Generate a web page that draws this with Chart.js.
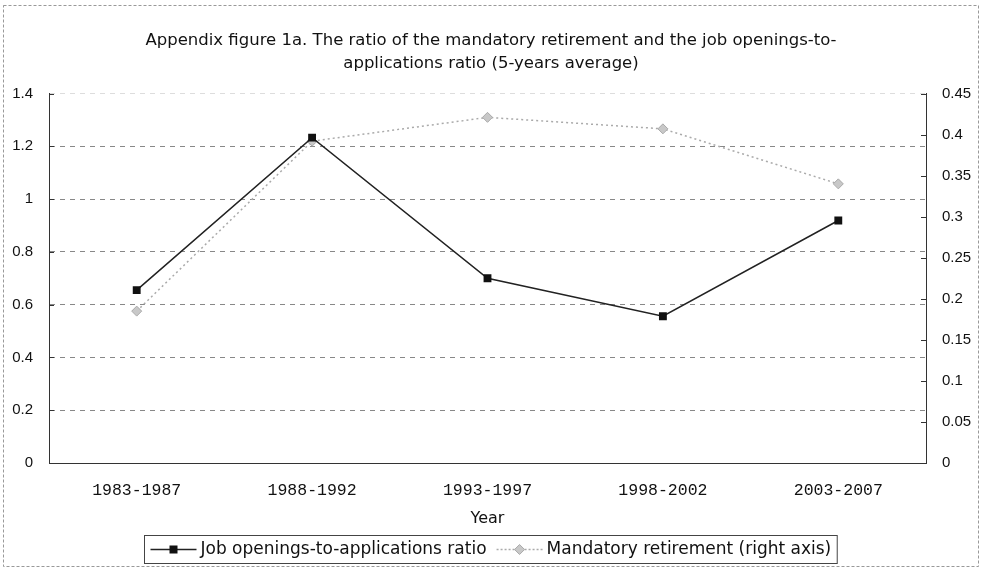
<!DOCTYPE html>
<html>
<head>
<meta charset="utf-8">
<script src="https://cdn.jsdelivr.net/npm/chart.js@4"></script>
<style>
  html, body { margin: 0; padding: 0; background: #fff; }
  #wrap { position: relative; width: 982px; height: 568px; }
</style>
</head>
<body>
<div id="wrap"><canvas id="c" width="982" height="568"></canvas></div>
<script>
// ---- data ----
const categories = ['1983-1987', '1988-1992', '1993-1997', '1998-2002', '2003-2007'];
const jobRatio = [0.655, 1.233, 0.70, 0.556, 0.919];
const retirement = [0.185, 0.392, 0.421, 0.407, 0.340];
const titleLines = ['Appendix figure 1a. The ratio of the mandatory retirement and the job openings-to-',
                    'applications ratio (5-years average)'];
const xTitle = 'Year';
const seriesNames = ['Job openings-to-applications ratio', 'Mandatory retirement (right axis)'];

const TEXT = '#111';
const fmt = v => String(+Number(v).toFixed(2));

const framePlugin = {
  id: 'frame',
  beforeDraw(chart) {
    const ctx = chart.ctx;
    ctx.save();
    ctx.fillStyle = '#fff';
    ctx.fillRect(0, 0, chart.width, chart.height);
    ctx.strokeStyle = '#999';
    ctx.lineWidth = 1;
    ctx.setLineDash([3, 2]);
    ctx.strokeRect(3.5, 5.5, 975, 561);
    ctx.restore();
  },
  afterDraw(chart) {
    const ctx = chart.ctx;
    const yL = chart.scales.y, yR = chart.scales.y1;
    ctx.save();
    ctx.strokeStyle = '#333';
    ctx.lineWidth = 1;
    yL.ticks.forEach((t, i) => {
      const py = Math.round(yL.getPixelForTick(i)) + 0.5;
      ctx.beginPath(); ctx.moveTo(yL.right, py); ctx.lineTo(yL.right + 5, py); ctx.stroke();
    });
    yR.ticks.forEach((t, i) => {
      const py = Math.round(yR.getPixelForTick(i)) + 0.5;
      ctx.beginPath(); ctx.moveTo(yR.left - 5, py); ctx.lineTo(yR.left, py); ctx.stroke();
    });
    // legend
    const font = '17px "DejaVu Sans"';
    ctx.font = font;
    const sample = 46, gap1 = 4, gap2 = 10, padX = 6;
    const w0 = ctx.measureText(chart.data.datasets[0].label).width;
    const w1 = ctx.measureText(chart.data.datasets[1].label).width;
    const total = padX + sample + gap1 + w0 + gap2 + sample + gap1 + w1 + padX;
    const bx = Math.round(490 - total / 2) + 0.5;
    const by = 535.5, bh = 28;
    const cy = by + bh / 2;
    ctx.strokeStyle = '#444';
    ctx.setLineDash([]);
    ctx.strokeRect(bx, by, total, bh);
    let x = bx + padX;
    ctx.strokeStyle = '#222'; ctx.lineWidth = 1.5;
    ctx.beginPath(); ctx.moveTo(x, cy); ctx.lineTo(x + sample, cy); ctx.stroke();
    ctx.fillStyle = '#111';
    ctx.fillRect(x + sample / 2 - 4, cy - 4, 8, 8);
    x += sample + gap1;
    ctx.fillStyle = TEXT; ctx.textBaseline = 'middle'; ctx.textAlign = 'left';
    ctx.fillText(chart.data.datasets[0].label, x, cy);
    x += w0 + gap2;
    ctx.strokeStyle = '#aaa'; ctx.lineWidth = 1.5; ctx.setLineDash([2, 2]);
    ctx.beginPath(); ctx.moveTo(x, cy); ctx.lineTo(x + sample, cy); ctx.stroke();
    ctx.setLineDash([]);
    ctx.fillStyle = '#c8c8c8'; ctx.strokeStyle = '#aaa'; ctx.lineWidth = 1;
    const dx = x + sample / 2;
    ctx.beginPath(); ctx.moveTo(dx, cy - 5); ctx.lineTo(dx + 5, cy); ctx.lineTo(dx, cy + 5); ctx.lineTo(dx - 5, cy); ctx.closePath();
    ctx.fill(); ctx.stroke();
    x += sample + gap1;
    ctx.fillStyle = TEXT;
    ctx.fillText(chart.data.datasets[1].label, x, cy);
    ctx.restore();
  }
};

new Chart(document.getElementById('c'), {
  type: 'line',
  data: {
    labels: categories,
    datasets: [
      {
        label: seriesNames[0],
        data: jobRatio,
        yAxisID: 'y',
        borderColor: '#222',
        borderWidth: 1.5,
        pointStyle: 'rect',
        pointRadius: 4.5,
        pointBackgroundColor: '#111',
        pointBorderColor: '#111',
        tension: 0
      },
      {
        label: seriesNames[1],
        data: retirement,
        yAxisID: 'y1',
        borderColor: '#aaa',
        borderWidth: 1.5,
        borderDash: [2, 3],
        pointStyle: 'rectRot',
        pointRadius: 5,
        pointBackgroundColor: '#c8c8c8',
        pointBorderColor: '#aaa',
        pointBorderWidth: 1,
        tension: 0
      }
    ]
  },
  options: {
    responsive: false,
    animation: false,
    layout: { padding: { left: 0, right: 0, top: 0, bottom: 35 } },
    plugins: {
      legend: { display: false },
      tooltip: { enabled: false },
      title: {
        display: true,
        text: titleLines,
        color: TEXT,
        font: { family: '"DejaVu Sans"', size: 16.5, weight: 'normal', lineHeight: 1.35 },
        padding: { top: 30, bottom: 19 }
      }
    },
    scales: {
      x: {
        type: 'category',
        offset: true,
        grid: { display: false, drawTicks: false, offset: true },
        border: { display: true, color: '#333', width: 1 },
        ticks: { color: TEXT, font: { family: '"Liberation Mono"', size: 16.5 }, padding: 18, maxRotation: 0 },
        title: { display: true, text: xTitle, color: TEXT, font: { family: '"DejaVu Sans"', size: 16 }, padding: { top: 0, bottom: 5 } },
        afterFit(s) { s.height = 70; }
      },
      y: {
        position: 'left',
        min: 0, max: 1.4,
        ticks: { stepSize: 0.2, color: TEXT, font: { family: '"Liberation Sans"', size: 15 }, padding: 16, callback: fmt },
        grid: {
          drawTicks: false,
          color: ctx => (ctx.tick && ctx.tick.value === 0) ? 'rgba(0,0,0,0)' : (ctx.tick && ctx.tick.value > 1.35 ? '#ddd' : '#888'),
          lineWidth: 1
        },
        border: { display: true, color: '#333', width: 1, dash: [5, 5] },
        afterFit(s) { s.width = 49; }
      },
      y1: {
        position: 'right',
        min: 0, max: 0.45,
        ticks: { stepSize: 0.05, color: TEXT, font: { family: '"Liberation Sans"', size: 15 }, padding: 16, callback: fmt },
        grid: { display: false, drawTicks: false },
        border: { display: true, color: '#333', width: 1 },
        afterFit(s) { s.width = 56; }
      }
    }
  },
  plugins: [framePlugin]
});
</script>
</body>
</html>
